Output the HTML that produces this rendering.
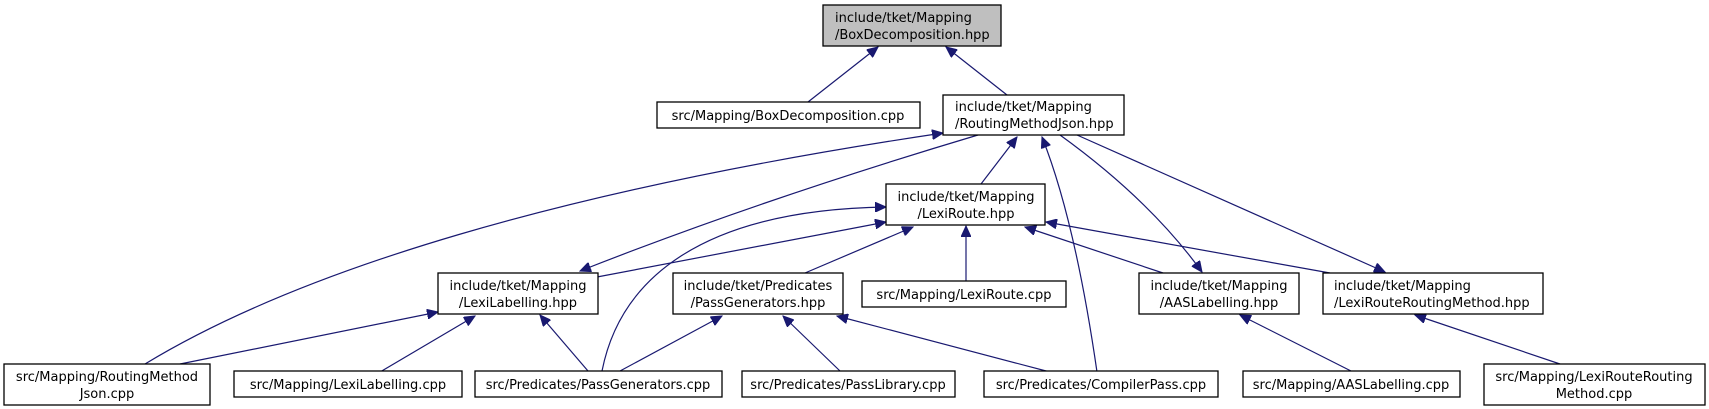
<!DOCTYPE html>
<html><head><meta charset="utf-8"><style>
html,body{margin:0;padding:0;background:#fff;}
svg{display:block;}
text{font-family:"DejaVu Sans","Liberation Sans",sans-serif;font-size:13px;fill:#000;}
.n{fill:#fff;stroke:#000;stroke-width:1.3;}
.e{fill:none;stroke:#191970;stroke-width:1.2;marker-end:url(#ar);}
</style></head><body>
<svg width="1709" height="409" viewBox="0 0 1709 409">
<defs><marker id="ar" markerWidth="12" markerHeight="10" refX="11" refY="5" orient="auto" markerUnits="userSpaceOnUse"><path d="M0,0 L11,5 L0,10 z" fill="#191970" stroke="#191970"/></marker></defs>
<!-- edges -->
<path class="e" d="M808,102 L878,47"/>
<path class="e" d="M1007,95 L946,47"/>
<path class="e" d="M145,364 C300,270 560,190 943,133"/>
<path class="e" d="M978,135 Q760,200 580,271"/>
<path class="e" d="M597,277 L886,222"/>
<path class="e" d="M602,371 C620,280 700,210 886,207"/>
<path class="e" d="M805,273 L913,227"/>
<path class="e" d="M966,281 L966,226"/>
<path class="e" d="M1163,273 L1025,227"/>
<path class="e" d="M1330,273 L1046,222"/>
<path class="e" d="M981,184 L1017,137"/>
<path class="e" d="M1060,135 Q1150,200 1202,272"/>
<path class="e" d="M1077,135 L1385,272"/>
<path class="e" d="M1097,372 Q1075,220 1042,137"/>
<path class="e" d="M180,364 L438,312"/>
<path class="e" d="M380,372 L475,316"/>
<path class="e" d="M588,371 L540,315"/>
<path class="e" d="M620,371 L722,316"/>
<path class="e" d="M840,371 L783,316"/>
<path class="e" d="M1050,372 L837,316"/>
<path class="e" d="M1353,372 L1240,315"/>
<path class="e" d="M1560,364 L1415,315"/>
<!-- nodes -->
<rect x="823" y="5" width="178" height="41" style="fill:#bfbfbf;stroke:#000;stroke-width:1.3"/>
<text x="835" y="22">include/tket/Mapping</text><text x="835" y="39">/BoxDecomposition.hpp</text>
<rect class="n" x="657" y="102" width="263" height="26"/><text x="788" y="120" text-anchor="middle">src/Mapping/BoxDecomposition.cpp</text>
<rect class="n" x="943" y="95" width="181" height="40"/><text x="955" y="111">include/tket/Mapping</text><text x="955" y="128">/RoutingMethodJson.hpp</text>
<rect class="n" x="886" y="184" width="159" height="41"/><text x="966" y="201" text-anchor="middle">include/tket/Mapping</text><text x="966" y="218" text-anchor="middle">/LexiRoute.hpp</text>
<rect class="n" x="438" y="273" width="160" height="41"/><text x="518" y="290" text-anchor="middle">include/tket/Mapping</text><text x="518" y="307" text-anchor="middle">/LexiLabelling.hpp</text>
<rect class="n" x="673" y="273" width="170" height="41"/><text x="758" y="290" text-anchor="middle">include/tket/Predicates</text><text x="758" y="307" text-anchor="middle">/PassGenerators.hpp</text>
<rect class="n" x="862" y="281" width="204" height="26"/><text x="964" y="299" text-anchor="middle">src/Mapping/LexiRoute.cpp</text>
<rect class="n" x="1139" y="273" width="160" height="41"/><text x="1219" y="290" text-anchor="middle">include/tket/Mapping</text><text x="1219" y="307" text-anchor="middle">/AASLabelling.hpp</text>
<rect class="n" x="1323" y="273" width="220" height="41"/><text x="1334" y="290">include/tket/Mapping</text><text x="1334" y="307">/LexiRouteRoutingMethod.hpp</text>
<rect class="n" x="4" y="364" width="206" height="41"/><text x="107" y="381" text-anchor="middle">src/Mapping/RoutingMethod</text><text x="107" y="398" text-anchor="middle">Json.cpp</text>
<rect class="n" x="234" y="371" width="228" height="26"/><text x="348" y="389" text-anchor="middle">src/Mapping/LexiLabelling.cpp</text>
<rect class="n" x="475" y="371" width="247" height="26"/><text x="598" y="389" text-anchor="middle">src/Predicates/PassGenerators.cpp</text>
<rect class="n" x="742" y="371" width="213" height="26"/><text x="848" y="389" text-anchor="middle">src/Predicates/PassLibrary.cpp</text>
<rect class="n" x="984" y="371" width="234" height="26"/><text x="1101" y="389" text-anchor="middle">src/Predicates/CompilerPass.cpp</text>
<rect class="n" x="1243" y="371" width="217" height="26"/><text x="1351" y="389" text-anchor="middle">src/Mapping/AASLabelling.cpp</text>
<rect class="n" x="1484" y="364" width="221" height="41"/><text x="1594" y="381" text-anchor="middle">src/Mapping/LexiRouteRouting</text><text x="1594" y="398" text-anchor="middle">Method.cpp</text>
</svg>
</body></html>
